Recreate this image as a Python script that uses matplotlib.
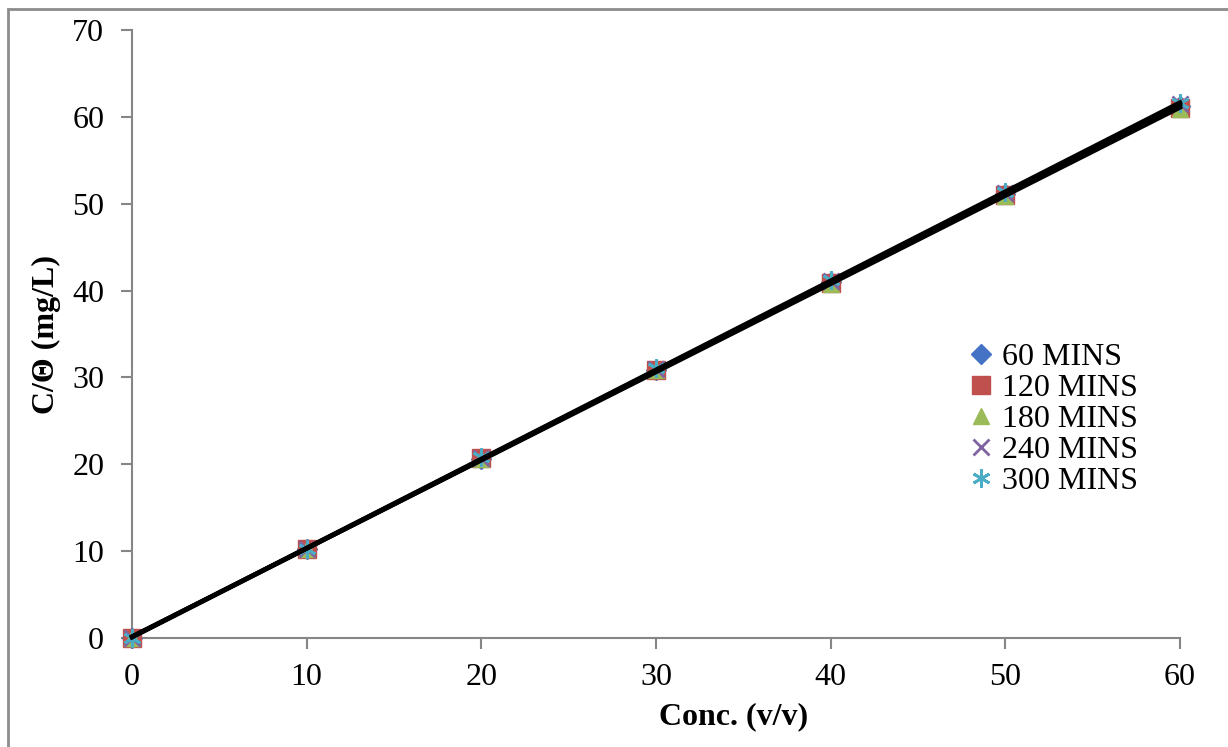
import numpy as np
import matplotlib.pyplot as plt
from matplotlib.patches import Rectangle

conc = [0, 10, 20, 30, 40, 50, 60]
labels = ["60 MINS", "120 MINS", "180 MINS", "240 MINS", "300 MINS"]
y_60 = [0, 10.2, 20.6, 30.8, 41.0, 51.1, 61.3]
y_120 = [0, 10.3, 20.7, 30.9, 40.9, 51.0, 61.0]
y_180 = [0, 10.2, 20.6, 30.8, 40.8, 50.9, 60.9]
y_240 = [0, 10.3, 20.7, 31.0, 41.1, 51.2, 61.5]
y_300 = [0, 10.3, 20.8, 31.1, 41.2, 51.3, 61.6]

series = [y_60, y_120, y_180, y_240, y_300]
colors = ["#4472C4", "#C0504D", "#9BBB59", "#8064A2", "#4BACC6"]
markers = ["D", "s", "^", "x", (6, 2, 0)]
sizes = [10, 13, 12, 12, 13]

plt.rcParams["font.family"] = ["Liberation Serif", "DejaVu Serif"]

fig = plt.figure(figsize=(12.28, 7.47), dpi=100)
ax = fig.add_axes([132 / 1228, 1 - 638 / 747, (1180 - 132) / 1228, (638 - 30) / 747])

fig.patches.append(Rectangle((8 / 1228, -0.1), 1.2, 1 - 9 / 747 + 0.1,
                             transform=fig.transFigure, fill=False,
                             edgecolor="#8c8c8c", lw=2))

for ys, lab, c, m, s in zip(series, labels, colors, markers, sizes):
    if m == "x" or isinstance(m, tuple):
        ax.plot(conc, ys, linestyle="none", marker=m, color=c, markersize=s,
                markeredgewidth=2, label=lab, zorder=3, clip_on=False)
    else:
        ax.plot(conc, ys, linestyle="none", marker=m, color=c, markersize=s,
                markeredgecolor=c, label=lab, zorder=3, clip_on=False)

# linear trendlines for each series
xs = np.array([conc[0], conc[-1]])
for ys in series:
    k, b = np.polyfit(conc, ys, 1)
    ax.plot(xs, k * xs + b, color="black", lw=3, zorder=4, clip_on=False)

ax.set_xlim(0, 60)
ax.set_ylim(0, 70)
ax.set_xticks(conc)
ax.set_yticks(range(0, 71, 10))
for side in ("top", "right"):
    ax.spines[side].set_visible(False)
for side in ("left", "bottom"):
    ax.spines[side].set_color("#868686")
    ax.spines[side].set_linewidth(1.5)
ax.tick_params(colors="#868686", labelcolor="black", labelsize=23,
               length=8, width=1.5, direction="out")
ax.tick_params(axis="x", pad=10)
ax.tick_params(axis="y", pad=12)

ax.set_xlabel("Conc. (v/v)", fontsize=23, fontweight="bold", labelpad=10)
ax.xaxis.set_label_coords(0.574, -0.105)
ax.set_ylabel("C/\u0398 (mg/L)", fontsize=23, fontweight="bold", labelpad=8)

ax.legend(loc="upper left", bbox_to_anchor=(0.778, 0.506), frameon=False,
          fontsize=23, handletextpad=0.0, labelspacing=0.05,
          borderaxespad=0, handlelength=1.3)

fig.savefig("out.png", dpi=100)
